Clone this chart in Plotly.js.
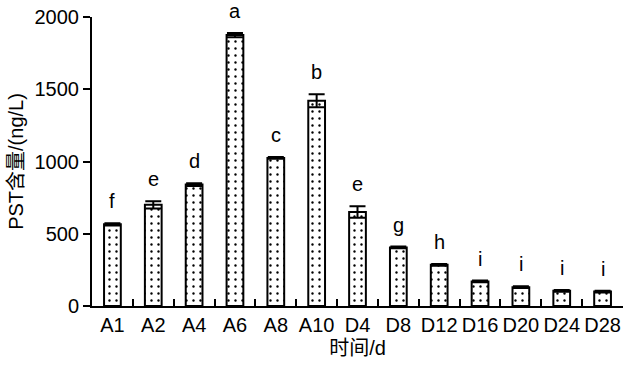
<!DOCTYPE html>
<html>
<head>
<meta charset="utf-8">
<script src="https://cdn.plot.ly/plotly-3.0.1.min.js"></script>
<style>html,body{margin:0;padding:0;background:#fff;}#chart{width:624px;height:365px;}</style>
</head>
<body>
<div id="chart"></div>
<script>
const categories = ["A1","A2","A4","A6","A8","A10","D4","D8","D12","D16","D20","D24","D28"];
const values = [565, 700, 840, 1875, 1025, 1420, 650, 405, 285, 170, 130, 105, 100];
const errors = [8, 25, 10, 15, 6, 45, 40, 6, 6, 6, 6, 6, 6];
const letters = ["f","e","d","a","c","b","e","g","h","i","i","i","i"];

const FONT = "Liberation Sans, Arial, sans-serif";
const CJK = "Liberation Sans, Noto Sans CJK SC, sans-serif";

const trace = {
  type: "bar",
  x: categories,
  y: values,
  width: 0.41,
  marker: {
    color: "#ffffff",
    line: {color: "#000000", width: 2},
    pattern: {shape: ".", fgcolor: "#000000", bgcolor: "#ffffff", size: 7, solidity: 0.09}
  },
  error_y: {type: "data", array: errors, visible: true, color: "#000000", thickness: 2, width: 8},
  hoverinfo: "none"
};

const annotations = categories.map((c, i) => ({
  x: c, y: values[i] + errors[i], xref: "x", yref: "y",
  text: letters[i], showarrow: false, yanchor: "bottom", yshift: 9,
  font: {family: FONT, size: 20, color: "#000"}
}));

const layout = {
  width: 624, height: 365,
  margin: {l: 92, r: 1, t: 17, b: 59},
  paper_bgcolor: "#fff", plot_bgcolor: "#fff",
  showlegend: false,
  font: {family: FONT, size: 20, color: "#000"},
  xaxis: {
    type: "category",
    showline: true, linecolor: "#000", linewidth: 2,
    ticks: "inside", tickson: "boundaries", ticklen: 7, tickwidth: 2, tickcolor: "#000",
    tickangle: 0,
    showgrid: false, zeroline: false,
    tickfont: {family: FONT, size: 20, color: "#000"},
    title: {text: "时间/d", font: {family: CJK, size: 20, color: "#000"}, standoff: 6}
  },
  yaxis: {
    range: [0, 2000],
    tickvals: [0, 500, 1000, 1500, 2000],
    showline: true, linecolor: "#000", linewidth: 2,
    ticks: "outside", ticklen: 7, tickwidth: 2, tickcolor: "#000",
    showgrid: false, zeroline: false,
    tickfont: {family: FONT, size: 20, color: "#000"},
    title: {text: "PST含量/(ng/L)", font: {family: CJK, size: 20, color: "#000"}, standoff: 6}
  },
  annotations: annotations
};

Plotly.newPlot("chart", [trace], layout, {displayModeBar: false, staticPlot: true});
</script>
</body>
</html>
